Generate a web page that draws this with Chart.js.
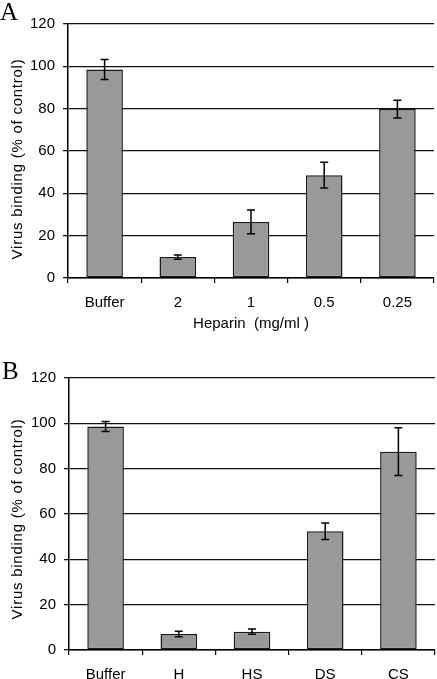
<!DOCTYPE html>
<html><head><meta charset="utf-8">
<script src="https://cdn.jsdelivr.net/npm/chart.js@4/dist/chart.umd.min.js"></script>
<style>
html,body{margin:0;padding:0;background:#fff;width:437px;height:679px;overflow:hidden;position:relative}
.wrap{position:absolute;left:0;width:437px}
.letter{position:absolute;font-family:"Liberation Serif","Times New Roman",serif;font-size:25px;line-height:1;color:#000}
canvas{display:block}
</style></head><body>
<div class="wrap" style="top:0;height:340px"><canvas id="cA" width="437" height="340"></canvas></div>
<div class="wrap" style="top:340px;height:339px"><canvas id="cB" width="437" height="339"></canvas></div>
<div class="letter" style="left:0px;top:-1px">A</div>
<div class="letter" style="left:2px;top:358px">B</div>
<script>
// Panel A data
const catsA = ["Buffer", "2", "1", "0.5", "0.25"];
const valsA = [98.5, 9.9, 26.5, 48.6, 79.8];
const errsA = [4.7, 1.0, 5.6, 6.1, 4.2];
const xTitleA = "Heparin  (mg/ml )";
// Panel B data
const catsB = ["Buffer", "H", "HS", "DS", "CS"];
const valsB = [98.6, 7.1, 8.1, 52.4, 87.5];
const errsB = [2.2, 1.2, 1.2, 3.6, 10.5];
// Shared axis
const yTicks = [0, 20, 40, 60, 80, 100, 120];
const yTitle = "Virus binding (% of control)";

const FONT = "'Liberation Sans', Arial, sans-serif";

const errorBars = {
  id: 'errorBars',
  afterDatasetsDraw(chart, args, opts) {
    const ctx = chart.ctx;
    const meta = chart.getDatasetMeta(0);
    const ys = chart.scales.y;
    const vals = chart.data.datasets[0].data;
    const errs = opts.errs;
    ctx.save();
    ctx.strokeStyle = '#000';
    ctx.lineWidth = 1.5;
    meta.data.forEach((bar, i) => {
      const x = bar.x;
      const yt = ys.getPixelForValue(vals[i] + errs[i]);
      const yb = ys.getPixelForValue(vals[i] - errs[i]);
      const w = 4;
      ctx.beginPath();
      ctx.moveTo(x, yt); ctx.lineTo(x, yb);
      ctx.moveTo(x - w, yt); ctx.lineTo(x + w, yt);
      ctx.moveTo(x - w, yb); ctx.lineTo(x + w, yb);
      ctx.stroke();
    });
    ctx.restore();
  }
};

// Y-axis title drawn as rotated canvas text with slight letter spacing
const yTitlePlugin = {
  id: 'yTitleText',
  afterDraw(chart, args, opts) {
    const ctx = chart.ctx;
    ctx.save();
    ctx.translate(opts.x, opts.y);
    ctx.rotate(-Math.PI / 2);
    ctx.font = "15px " + FONT;
    if ('letterSpacing' in ctx) ctx.letterSpacing = '0.75px';
    ctx.fillStyle = '#000';
    ctx.textAlign = 'center';
    ctx.textBaseline = 'middle';
    ctx.fillText(yTitle, 0, 0);
    ctx.restore();
  }
};

function makeChart(id, cats, vals, errs, xTitle, padTop, yWidth, padRight, xHeight, titleY) {
  return new Chart(document.getElementById(id), {
    type: 'bar',
    data: {
      labels: cats,
      datasets: [{
        data: vals,
        backgroundColor: '#999999',
        borderColor: '#1a1a1a',
        borderWidth: 1.5,
        borderSkipped: false,
        categoryPercentage: 1.0,
        barPercentage: 0.5
      }]
    },
    options: {
      responsive: false,
      animation: false,
      devicePixelRatio: 1,
      layout: { padding: { top: padTop, right: padRight, left: 0, bottom: 0 } },
      plugins: {
        legend: { display: false },
        tooltip: { enabled: false },
        errorBars: { errs: errs },
        yTitleText: { x: 18, y: titleY }
      },
      scales: {
        x: {
          offset: true,
          grid: { offset: true, drawOnChartArea: false, drawTicks: true, tickLength: 5, color: '#000', lineWidth: 1.2 },
          border: { color: '#000', width: 1.5 },
          ticks: { color: '#000', font: { family: FONT, size: 15 }, padding: 11, maxRotation: 0 },
          title: { display: !!xTitle, text: xTitle, color: '#000', font: { family: FONT, size: 15 }, padding: { top: 0, bottom: 7 } },
          afterFit(s) { s.height = xHeight; }
        },
        y: {
          min: 0, max: 120,
          afterBuildTicks(s) { s.ticks = yTicks.map(v => ({ value: v })); },
          grid: { color: '#111', lineWidth: 1.3, tickLength: 5 },
          border: { color: '#000', width: 1.5 },
          ticks: { color: '#000', font: { family: FONT, size: 15 }, padding: 8 },
          title: { display: false },
          afterFit(s) { s.width = yWidth; }
        }
      }
    },
    plugins: [errorBars, yTitlePlugin]
  });
}

makeChart('cA', catsA, valsA, errsA, xTitleA, 24, 68, 3, 62, 159);
makeChart('cB', catsB, valsB, errsB, null, 38, 69, 2, 29, 179);
</script>
</body></html>
